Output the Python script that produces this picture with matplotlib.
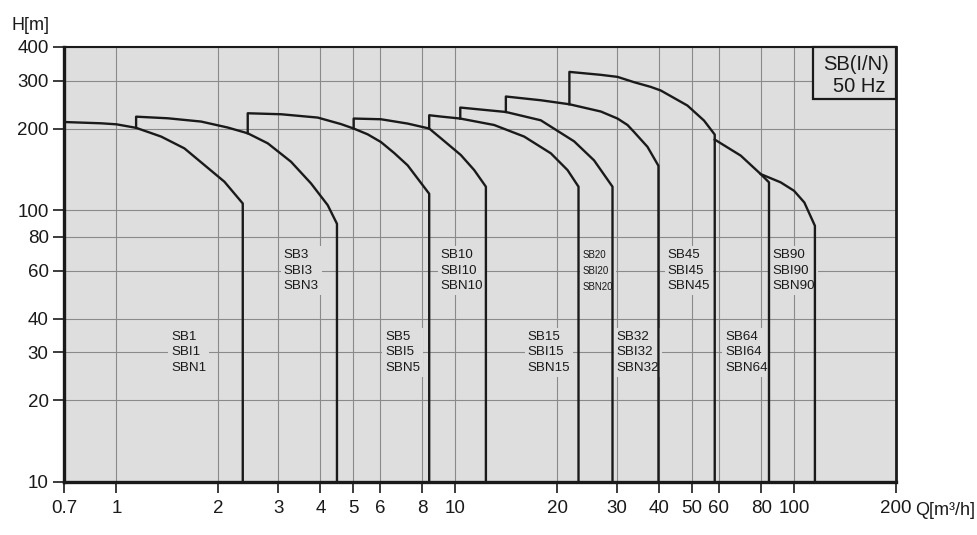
"""Pump performance chart - SB(I/N) range, 50 Hz, log-log Q/H curves."""
import matplotlib
matplotlib.use("Agg")
import matplotlib.pyplot as plt
from matplotlib.patches import Rectangle
from matplotlib.ticker import FixedLocator, NullLocator, FixedFormatter

plt.rcParams['font.family'] = ['Liberation Sans', 'DejaVu Sans']

# ---- curve data: flow Q [m3/h], head H [m] (step base first, drop to 10 last) ----
SB1_Q = [0.7, 0.901, 1.0, 1.143, 1.355, 1.587, 1.818, 2.083, 2.36, 2.36]
SB1_H = [211.7, 209.4, 207.6, 201.5, 187.1, 169.3, 147.0, 127.6, 106.1, 10]

SB3_Q = [1.143, 1.143, 1.418, 1.778, 2.131, 2.441, 2.797, 3.275, 3.752, 4.204, 4.477, 4.477]
SB3_H = [201.5, 221.5, 218.5, 212.5, 202.0, 192.4, 176.7, 151.2, 125.8, 104.6, 89.3, 10]

SB5_Q = [2.441, 2.441, 3.061, 3.928, 4.601, 5.015, 5.515, 6.037, 6.607, 7.238, 8.38, 8.38]
SB5_H = [192.4, 228.0, 226.1, 219.8, 208.0, 200.3, 190.7, 178.6, 162.7, 146.6, 115.2, 10]

SB10_Q = [5.015, 5.015, 6.037, 7.238, 8.38, 9.075, 10.39, 11.38, 12.32, 12.32]
SB10_H = [200.3, 218.0, 216.7, 208.9, 200.3, 184.4, 160.0, 140.8, 122.3, 10]

SB15_Q = [8.38, 8.38, 9.075, 10.35, 13.03, 15.98, 19.16, 21.46, 23.12, 23.12]
SB15_H = [200.3, 224.2, 221.7, 218.0, 206.4, 187.1, 162.3, 140.8, 122.3, 10]

SB20_Q = [10.35, 10.35, 14.11, 17.89, 22.44, 25.7, 29.13, 29.13]
SB20_H = [218.0, 239.3, 230.5, 214.8, 179.7, 152.9, 122.3, 10]

SB32_Q = [14.11, 14.11, 17.89, 21.73, 26.91, 30.14, 32.26, 33.73, 36.95, 39.81, 39.81]
SB32_H = [230.5, 262.8, 254.6, 246.1, 231.4, 218.0, 206.4, 194.5, 171.5, 146.0, 10]

SB45_Q = [21.73, 21.73, 26.91, 30.14, 33.73, 37.79, 40.45, 48.48, 54.26, 58.36, 58.36]
SB45_H = [246.1, 323.8, 315.8, 310.4, 296.7, 285.1, 276.5, 243.4, 214.3, 190.3, 10]

SB64_Q = [58.36, 69.64, 79.78, 84.39, 84.39]
SB64_H = [182.4, 159.2, 136.1, 126.9, 10]

SB90_Q = [79.78, 91.37, 100.0, 107.3, 115.3, 115.3]
SB90_H = [136.1, 126.9, 118.2, 107.0, 87.8, 10]

CURVES = [(SB1_Q, SB1_H), (SB3_Q, SB3_H), (SB5_Q, SB5_H), (SB10_Q, SB10_H),
          (SB15_Q, SB15_H), (SB20_Q, SB20_H), (SB32_Q, SB32_H), (SB45_Q, SB45_H),
          (SB64_Q, SB64_H), (SB90_Q, SB90_H)]

MODELS = ['1', '3', '5', '10', '15', '20', '32', '45', '64', '90']

X_TICKS = [0.7, 1, 2, 3, 4, 5, 6, 8, 10, 20, 30, 40, 50, 60, 80, 100, 200]
X_LABELS = ['0.7', '1', '2', '3', '4', '5', '6', '8', '10', '20', '30', '40',
            '50', '60', '80', '100', '200']
Y_TICKS = [10, 20, 30, 40, 60, 80, 100, 200, 300, 400]
Y_LABELS = ['10', '20', '30', '40', '60', '80', '100', '200', '300', '400']
# -----------------------------------------------------------------------------

# label anchors (left edge Q, middle line H)
LABEL_POS = [(1.45, 30), (3.117, 60), (6.216, 30), (9.075, 60), (16.35, 30),
             (23.76, 60), (29.94, 30), (42.31, 60), (62.59, 30), (86.37, 60)]

BG = '#dedede'
INK = '#1a1a1a'

fig = plt.figure(figsize=(9.78, 5.35), dpi=100)
fig.patch.set_facecolor('white')
ax = fig.add_axes([0.0654, 0.0991, 0.8507, 0.8131])
ax.set_facecolor(BG)
ax.set_xscale('log')
ax.set_yscale('log')
ax.set_xlim(0.7, 200)
ax.set_ylim(10, 400)

ax.xaxis.set_major_locator(FixedLocator(X_TICKS))
ax.xaxis.set_major_formatter(FixedFormatter(X_LABELS))
ax.xaxis.set_minor_locator(NullLocator())
ax.yaxis.set_major_locator(FixedLocator(Y_TICKS))
ax.yaxis.set_major_formatter(FixedFormatter(Y_LABELS))
ax.yaxis.set_minor_locator(NullLocator())
ax.tick_params(axis='both', direction='out', length=8, width=1.2, colors=INK,
               labelsize=13.5)
ax.tick_params(axis='x', pad=5)
ax.tick_params(axis='y', pad=3)

ax.set_axisbelow(True)
ax.grid(True, which='major', color='#8a8a8a', lw=0.8)

for side, lw in [('left', 2.4), ('bottom', 2.4), ('right', 2.0), ('top', 1.5)]:
    ax.spines[side].set_linewidth(lw)
    ax.spines[side].set_color(INK)

for q, h in CURVES:
    ax.plot(q, h, color=INK, lw=1.7, solid_joinstyle='round', zorder=3)

for m, (lx, ly) in zip(MODELS, LABEL_POS):
    small = m == '20'
    ax.text(lx, ly, f"SB{m}\nSBI{m}\nSBN{m}", fontsize=7 if small else 9.6,
            color=INK, ha='left', va='center',
            linespacing=1.75 if small else 1.42,
            bbox=dict(facecolor=BG, edgecolor='none', pad=2), zorder=2)

# speed / range box, top right
ax.add_patch(Rectangle((0.900, 0.880), 0.1, 0.12, transform=ax.transAxes,
                       fc=BG, ec=INK, lw=1.6, zorder=4, clip_on=False))
ax.text(0.952, 0.9586, "SB(I/N)", transform=ax.transAxes, fontsize=14.5,
        ha='center', va='center', color=INK, zorder=5)
ax.text(0.9555, 0.908, "50 Hz", transform=ax.transAxes, fontsize=14.5,
        ha='center', va='center', color=INK, zorder=5)

fig.text(0.012, 0.944, "H[m]", fontsize=13, color=INK, ha='left', va='baseline')
fig.text(0.9356, 0.0467, "Q[m³/h]", fontsize=13, color=INK, ha='left', va='center')

fig.savefig("out.png", dpi=100, facecolor='white')
